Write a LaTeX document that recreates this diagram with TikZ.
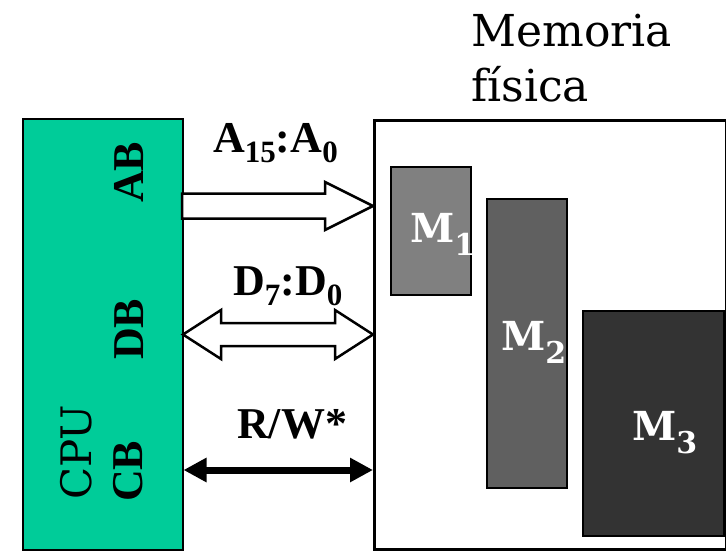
\documentclass[tikz,border=0pt]{standalone}
\usepackage{fontspec}
\setmainfont{DejaVu Serif}
\newfontfamily\tms{Liberation Serif}
\usetikzlibrary{arrows.meta}
\definecolor{cputeal}{HTML}{00CC99}
\definecolor{mone}{HTML}{808080}
\definecolor{mtwo}{HTML}{606060}
\definecolor{mthree}{HTML}{333333}
\newcommand\bsub[3]{\raisebox{-#2}{\fontsize{#3}{#3}\selectfont #1}}
\begin{document}
\begin{tikzpicture}[x=1pt,y=-1pt,
  cpubox/.style={draw=black, line width=1.5pt, fill=cputeal, anchor=north west, inner sep=0pt},
  membox/.style={draw=black, line width=3pt, fill=white, anchor=north west, inner sep=0pt},
  mblock/.style={draw=black, line width=2pt, anchor=north west, inner sep=0pt},
  hollow/.style={draw=black, line width=2.5pt, fill=white, line join=miter},
  busname/.style={font=\tms\bfseries\fontsize{44}{44}\selectfont, rotate=90, anchor=base west, inner sep=0pt},
  buslabel/.style={font=\tms\bfseries\fontsize{44}{44}\selectfont, anchor=base west, inner sep=0pt},
  mlabel/.style={font=\bfseries\fontsize{40}{40}\selectfont, text=white, anchor=base west, inner sep=0pt},
  title/.style={font=\fontsize{44}{44}\selectfont, anchor=base west, inner sep=0pt},
  cbarrow/.style={line width=7pt, {Triangle[length=23pt,width=23pt]}-{Triangle[length=23pt,width=23pt]}}
]
\useasboundingbox (0,0) rectangle (726,550);

% boxes
\node[cpubox, minimum width=160pt, minimum height=431pt] (cpu) at (22,118) {};
\node[membox, minimum width=352pt, minimum height=429pt] (mem) at (373,119) {};
\node[mblock, fill=mone, minimum width=80pt, minimum height=128pt] (m1) at (390,166) {};
\node[mblock, fill=mtwo, minimum width=80pt, minimum height=289pt] (m2) at (486,198) {};
\node[mblock, fill=mthree, minimum width=141pt, minimum height=225pt] (m3) at (582,310) {};

% titles
\node[title] (t1) at (471,46) {Memoria};
\node[title] (t2) at (471,101) {física};

% CPU side labels
\node[font=\fontsize{42}{42}\selectfont, rotate=90, anchor=base west, inner sep=0pt] (cpulbl) at (91,500) {CPU};
\node[busname] (ab) at (143,203) {AB};
\node[busname] (db) at (143,360) {DB};
\node[busname] (cb) at (142,502) {CB};

% memory labels
\node[mlabel] (l1) at (410,242) {M\bsub{1}{13pt}{30}};
\node[mlabel] (l2) at (501,350) {M\bsub{2}{13pt}{30}};
\node[mlabel] (l3) at (632,440) {M\bsub{3}{13pt}{30}};

% bus labels
\node[buslabel] (la) at (213,152) {A\bsub{15}{10pt}{31}:A\bsub{0}{10pt}{31}};
\node[buslabel] (ld) at (233,295) {D\bsub{7}{10pt}{31}:D\bsub{0}{10pt}{31}};
\node[buslabel] (lr) at (237,438) {R/W*};

% address bus (hollow arrow)
\draw[hollow] (182,193.5) -- (325,193.5) -- (325,182) -- (373,206) -- (325,230) -- (325,218.5) -- (182,218.5) -- cycle;

% data bus (hollow double arrow)
\draw[hollow] (183,334.5) -- (221,310) -- (221,323) -- (335,323) -- (335,310) -- (373,334.5)
  -- (335,359) -- (335,346) -- (221,346) -- (221,359) -- cycle;

% control bus
\coordinate (cby) at (0,470);
\draw[cbarrow] (cpu.east |- cby) -- (mem.west |- cby);
\end{tikzpicture}
\end{document}
